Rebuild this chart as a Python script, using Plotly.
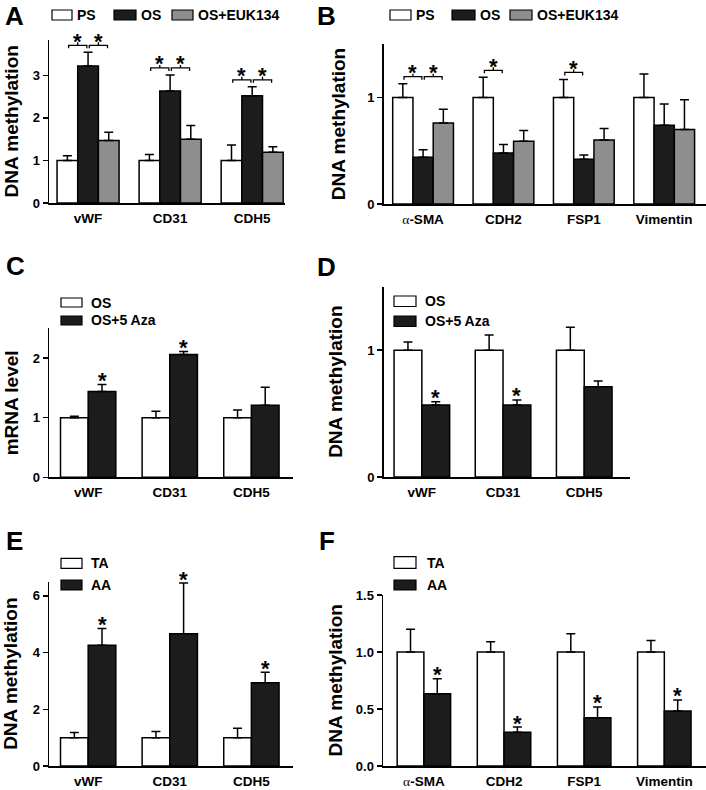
import plotly.graph_objects as go

W, H = 706, 790

# ---------------- data ----------------
A_cats = ["vWF", "CD31", "CDH5"]
A_PS = [1.0, 1.0, 1.0]
A_PS_err = [0.11, 0.14, 0.36]
A_OS = [3.22, 2.63, 2.52]
A_OS_err = [0.32, 0.38, 0.21]
A_EUK = [1.47, 1.50, 1.19]
A_EUK_err = [0.19, 0.32, 0.13]
A_sig = [[(0, 1), (1, 2)], [(0, 1), (1, 2)], [(0, 1), (1, 2)]]

ALPHA = "<span style='font-weight:normal;font-family:Liberation Serif'>α</span>"
B_cats = [ALPHA + "-SMA", "CDH2", "FSP1", "Vimentin"]
B_PS = [1.0, 1.0, 1.0, 1.0]
B_PS_err = [0.13, 0.19, 0.17, 0.22]
B_OS = [0.44, 0.48, 0.42, 0.74]
B_OS_err = [0.07, 0.08, 0.04, 0.20]
B_EUK = [0.76, 0.59, 0.60, 0.70]
B_EUK_err = [0.13, 0.10, 0.11, 0.28]
B_sig = [[(0, 1), (1, 2)], [(0, 1)], [(0, 1)], []]

C_cats = ["vWF", "CD31", "CDH5"]
C_OS = [1.0, 1.0, 1.0]
C_OS_err = [0.025, 0.11, 0.13]
C_AZA = [1.44, 2.06, 1.21]
C_AZA_err = [0.115, 0.05, 0.30]
C_star = [True, True, False]

D_cats = ["vWF", "CD31", "CDH5"]
D_OS = [1.0, 1.0, 1.0]
D_OS_err = [0.065, 0.12, 0.18]
D_AZA = [0.567, 0.567, 0.711]
D_AZA_err = [0.026, 0.04, 0.045]
D_star = [True, True, False]

E_cats = ["vWF", "CD31", "CDH5"]
E_TA = [1.0, 1.0, 1.0]
E_TA_err = [0.18, 0.22, 0.33]
E_AA = [4.26, 4.66, 2.94]
E_AA_err = [0.59, 1.79, 0.37]
E_star = [True, True, True]

F_cats = [ALPHA + "-SMA", "CDH2", "FSP1", "Vimentin"]
F_TA = [1.0, 1.0, 1.0, 1.0]
F_TA_err = [0.20, 0.09, 0.16, 0.10]
F_AA = [0.634, 0.296, 0.424, 0.482]
F_AA_err = [0.132, 0.046, 0.094, 0.097]
F_star = [True, True, True, True]

# ---------------- style ----------------
WHITE, BLACK, GRAY = "#ffffff", "#1c1c1c", "#8e8e8e"
FONT = "Liberation Sans, Arial, sans-serif"


def xp(px):
    return px / W


def yp(py):
    return 1 - py / H


panels = [
    dict(sfx="", cats=A_cats, xpx=(49, 285), ypx=(40, 203), xr=(-0.476, 2.40), yr=(0, 3.83),
         tickvals=[0, 1, 2, 3], fmt="", group=0.756,
         series=[("PS", A_PS, A_PS_err, WHITE), ("OS", A_OS, A_OS_err, BLACK),
                 ("OS+EUK134", A_EUK, A_EUK_err, GRAY)],
         sig=A_sig, star=None, title="DNA methylation", tx=11, label="A", lx=3, ly=16,
         legend=dict(kind="h", y=(10, 20), boxes=[(52, 72), (114, 136), (172, 193)], gap=3)),
    dict(sfx="2", cats=B_cats, xpx=(383.7, 706), ypx=(44.3, 204), xr=(-0.49, 3.52), yr=(0, 1.5),
         tickvals=[0, 1], fmt="", group=0.756,
         series=[("PS", B_PS, B_PS_err, WHITE), ("OS", B_OS, B_OS_err, BLACK),
                 ("OS+EUK134", B_EUK, B_EUK_err, GRAY)],
         sig=B_sig, star=None, title="DNA methylation", tx=338, label="B", lx=315, ly=16,
         legend=dict(kind="h", y=(10, 20), boxes=[(390, 411), (452, 475), (510, 532)], gap=3)),
    dict(sfx="3", cats=C_cats, xpx=(49, 293), ypx=(328.3, 477.3), xr=(-0.48, 2.51), yr=(0, 2.5),
         tickvals=[0, 1, 2], fmt="", group=0.678,
         series=[("OS", C_OS, C_OS_err, WHITE), ("OS+5 Aza", C_AZA, C_AZA_err, BLACK)],
         sig=None, star=C_star, title="mRNA level", tx=11.5, label="C", lx=4, ly=266,
         legend=dict(kind="v", x=(61, 82), rows=[(298, 307), (316, 325)], gap=7)),
    dict(sfx="4", cats=D_cats, xpx=(383.7, 629.7), ypx=(286.7, 477), xr=(-0.47, 2.56), yr=(0, 1.5),
         tickvals=[0, 1], fmt="", group=0.685,
         series=[("OS", D_OS, D_OS_err, WHITE), ("OS+5 Aza", D_AZA, D_AZA_err, BLACK)],
         sig=None, star=D_star, title="DNA methylation", tx=336, label="D", lx=315, ly=267,
         legend=dict(kind="v", x=(394, 416), rows=[(296, 306.5), (316, 326.5)], gap=7)),
    dict(sfx="5", cats=E_cats, xpx=(49, 293), ypx=(581.7, 766), xr=(-0.48, 2.51), yr=(0, 6.5),
         tickvals=[0, 2, 4, 6], fmt="", group=0.678,
         series=[("TA", E_TA, E_TA_err, WHITE), ("AA", E_AA, E_AA_err, BLACK)],
         sig=None, star=E_star, title="DNA methylation", tx=11, label="E", lx=4, ly=541,
         legend=dict(kind="v", x=(61, 82), rows=[(558.3, 568.3), (580, 590)], gap=7)),
    dict(sfx="6", cats=F_cats, xpx=(383, 706), ypx=(595, 766), xr=(-0.51, 3.52), yr=(0, 1.5),
         tickvals=[0, 0.5, 1.0, 1.5], fmt=".1f", group=0.667,
         series=[("TA", F_TA, F_TA_err, WHITE), ("AA", F_AA, F_AA_err, BLACK)],
         sig=None, star=F_star, title="DNA methylation", tx=335, label="F", lx=317, ly=541,
         legend=dict(kind="v", x=(394, 416), rows=[(556.7, 568.3), (580, 590)], gap=9)),
]

fig = go.Figure()
shapes, annos = [], []
layout = {}

for p in panels:
    sfx = p["sfx"]
    xa, ya = "x" + sfx, "y" + sfx
    n = len(p["series"])
    G = p["group"]
    w = G / n
    ncat = len(p["cats"])
    idx = list(range(ncat))
    for k, (name, vals, errs, col) in enumerate(p["series"]):
        fig.add_trace(go.Bar(
            x=idx, y=vals, name=name, width=w, offset=-G / 2 + k * w,
            xaxis=xa, yaxis=ya, showlegend=False,
            marker=dict(color=col, line=dict(color="black", width=1.5)),
            error_y=dict(type="data", array=errs, arrayminus=[0] * ncat, symmetric=False,
                         color="black", thickness=1.5, width=4.5),
        ))
    # axes
    ypx_h = p["ypx"][1] - p["ypx"][0]
    d_per_px = (p["yr"][1] - p["yr"][0]) / ypx_h
    layout["xaxis" + sfx] = dict(
        domain=[xp(p["xpx"][0]), xp(p["xpx"][1])], range=list(p["xr"]), anchor=ya,
        tickmode="array", tickvals=idx, ticktext=p["cats"], ticks="",
        showline=True, linecolor="black", linewidth=1.5, showgrid=False, zeroline=False,
        tickfont=dict(family=FONT, size=13.5, color="black", weight="bold"),
        ticklabelstandoff=2, automargin=False, fixedrange=True)
    layout["yaxis" + sfx] = dict(
        domain=[yp(p["ypx"][1]), yp(p["ypx"][0])], range=list(p["yr"]), anchor=xa,
        tickmode="array", tickvals=p["tickvals"], tickformat=p["fmt"], ticks="outside",
        ticklen=5, tickwidth=1.5, tickcolor="black",
        showline=True, linecolor="black", linewidth=1.5, showgrid=False, zeroline=False,
        tickfont=dict(family=FONT, size=13, color="black", weight="bold"),
        automargin=False, fixedrange=True)

    def bar_center(i, k):
        return i - G / 2 + (k + 0.5) * w

    # significance brackets
    if p["sig"]:
        for i, pairs in enumerate(p["sig"]):
            if not pairs:
                continue
            tops = [s[1][i] + s[2][i] for s in p["series"]]
            yb = max(tops) + 7 * d_per_px
            dd = 3 * d_per_px
            for (k1, k2) in pairs:
                x1 = bar_center(i, k1) + 0.015
                x2 = bar_center(i, k2) - 0.015
                xm = (x1 + x2) / 2
                shapes.append(dict(
                    type="path", xref=xa, yref=ya,
                    path=f"M {x1},{yb - dd} L {x1},{yb} L {x2},{yb} L {x2},{yb - dd} M {xm},{yb} L {xm},{yb + dd}",
                    line=dict(color="black", width=1.3)))
                annos.append(dict(x=xm, y=yb, xref=xa, yref=ya, text="*", showarrow=False,
                                  yanchor="middle", yshift=4,
                                  font=dict(family=FONT, size=22, color="black", weight="bold")))
    if p["star"]:
        vals, errs = p["series"][1][1], p["series"][1][2]
        for i, s in enumerate(p["star"]):
            if s:
                annos.append(dict(x=bar_center(i, 1), y=vals[i] + errs[i], xref=xa, yref=ya,
                                  text="*", showarrow=False, yanchor="middle", yshift=4,
                                  font=dict(family=FONT, size=22, color="black", weight="bold")))
    # y title
    annos.append(dict(x=xp(p["tx"]), y=yp((p["ypx"][0] + p["ypx"][1]) / 2), xref="paper", yref="paper",
                      text=p["title"], textangle=-90, showarrow=False, xanchor="center", yanchor="middle",
                      font=dict(family=FONT, size=19, color="black", weight="bold")))
    # panel label
    annos.append(dict(x=xp(p["lx"]), y=yp(p["ly"]), xref="paper", yref="paper", text=p["label"],
                      showarrow=False, xanchor="left", yanchor="middle",
                      font=dict(family=FONT, size=26, color="black", weight="bold")))
    # legend
    lg = p["legend"]
    for k, (name, vals, errs, col) in enumerate(p["series"]):
        if lg["kind"] == "h":
            bx0, bx1 = lg["boxes"][k]
            by0, by1 = lg["y"]
        else:
            bx0, bx1 = lg["x"]
            by0, by1 = lg["rows"][k]
        shapes.append(dict(type="rect", xref="paper", yref="paper",
                           x0=xp(bx0), x1=xp(bx1), y0=yp(by1), y1=yp(by0),
                           fillcolor=col, line=dict(color="black", width=1.2)))
        annos.append(dict(x=xp(bx1 + lg["gap"]), y=yp((by0 + by1) / 2), xref="paper", yref="paper",
                          text=name, showarrow=False, xanchor="left", yanchor="middle",
                          font=dict(family=FONT, size=14, color="black", weight="bold")))

fig.update_layout(
    template="none",
    width=W, height=H, margin=dict(l=0, r=0, t=0, b=0, pad=0, autoexpand=False),
    paper_bgcolor="white", plot_bgcolor="white",
    barmode="overlay", shapes=shapes, annotations=annos, showlegend=False,
    **layout)

fig.write_html("out.html", config={"displayModeBar": False, "staticPlot": True},
               post_script="document.body.style.margin='0px';document.body.style.overflow='hidden';")
